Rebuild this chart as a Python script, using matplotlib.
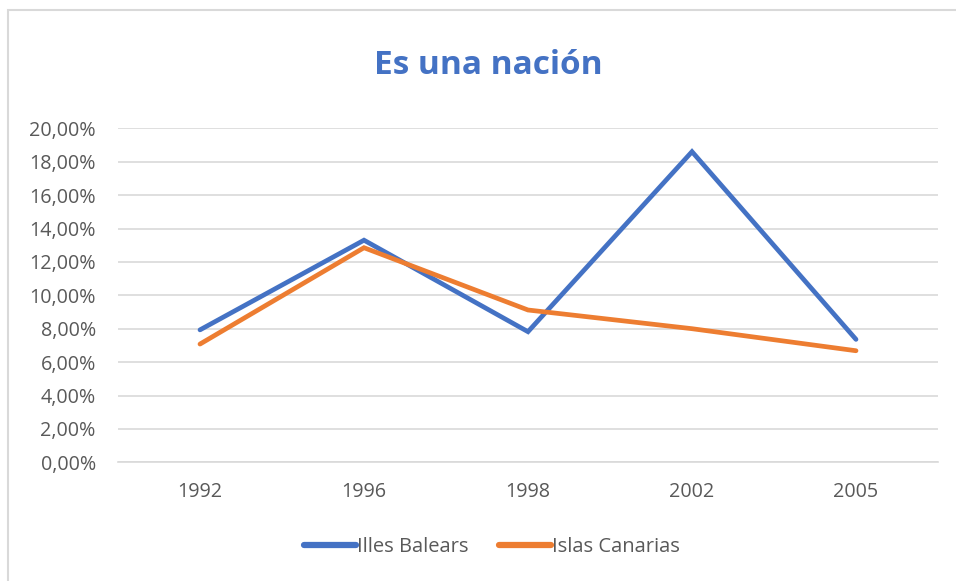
import matplotlib
matplotlib.use("Agg")
from matplotlib import pyplot as plt
from matplotlib.patches import Rectangle
from matplotlib.ticker import FuncFormatter

years = ['1992', '1996', '1998', '2002', '2005']
illes_balears = [0.0793, 0.1330, 0.0782, 0.1860, 0.0736]
islas_canarias = [0.0708, 0.1285, 0.0912, 0.0800, 0.0668]

plt.rcParams['font.family'] = ['Open Sans', 'DejaVu Sans']

fig = plt.figure(figsize=(9.56, 5.81), dpi=100)
ax = fig.add_axes([118 / 956, 1 - 462.3 / 581, 820 / 956, 334 / 581])

# outer chart border (right/bottom edges fall outside the picture)
fig.patches.append(Rectangle((7.5 / 956, -0.05), 1.1, 1 - 10 / 581 + 0.05,
                             transform=fig.transFigure, fill=False,
                             edgecolor='#d9d9d9', linewidth=1.5))

x = range(len(years))
ax.plot(x, illes_balears, color='#4472C4', linewidth=3.4, solid_capstyle='round',
        solid_joinstyle='miter', label='Illes Balears')
ax.plot(x, islas_canarias, color='#ED7D31', linewidth=3.4, solid_capstyle='round',
        solid_joinstyle='miter', label='Islas Canarias')

ax.set_xlim(-0.5, len(years) - 0.5)
ax.set_ylim(0, 0.20)
ax.set_yticks([i / 100 for i in range(0, 21, 2)])
ax.yaxis.set_major_formatter(FuncFormatter(lambda v, p: f'{v * 100:.2f}%'.replace('.', ',')))
ax.set_xticks(list(x))
ax.set_xticklabels(years)
ax.grid(axis='y', color='#d9d9d9', linewidth=1.2)
ax.set_axisbelow(True)
for s in ['top', 'right', 'left']:
    ax.spines[s].set_visible(False)
ax.spines['bottom'].set_color('#d9d9d9')
ax.spines['bottom'].set_linewidth(1.2)
ax.tick_params(axis='both', length=0, labelsize=14.2, labelcolor='#595959')
ax.tick_params(axis='y', pad=16)
ax.tick_params(axis='x', pad=14)

fig.text(488 / 956, 1 - 66 / 581, 'Es una nación', ha='center', va='center',
         fontsize=24, fontweight='bold', color='#4472C4')

leg = fig.legend(loc='center', bbox_to_anchor=(492 / 956, 1 - 547 / 581), ncol=2,
                 frameon=False, fontsize=14.5, handlelength=2.6, handletextpad=0.05,
                 columnspacing=1.5)
for line in leg.get_lines():
    line.set_linewidth(4.5)
for t in leg.get_texts():
    t.set_color('#595959')

fig.savefig('out.png', dpi=100)
